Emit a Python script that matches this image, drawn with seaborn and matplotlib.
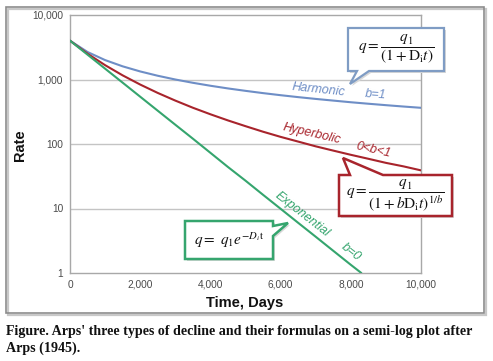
import numpy as np
import pandas as pd
import matplotlib
matplotlib.use("Agg")
import matplotlib.pyplot as plt
from matplotlib.patches import Polygon, Rectangle
from matplotlib.ticker import FixedLocator, FuncFormatter, NullLocator
import seaborn as sns

# === data ===
days = [0, 500, 1000, 1500, 2000, 2500, 3000, 3500, 4000, 4500, 5000,
        5500, 6000, 6500, 7000, 7500, 8000, 8500, 9000, 9500, 10000]
harmonic = [4000, 2667, 2000, 1600, 1333, 1143, 1000, 889, 800, 727, 667,
            615, 571, 533, 500, 471, 444, 421, 400, 381, 364]
hyperbolic = [4000, 2510, 1668, 1159, 835, 619, 471, 365, 289, 232, 189,
              155, 129, 109, 92, 79, 68, 59, 51, 45, 39]
exp_days = [0, 500, 1000, 1500, 2000, 2500, 3000, 3500, 4000, 4500, 5000,
            5500, 6000, 6500, 7000, 7500, 8000, 8300]
exponential = [4000, 2426, 1472, 893, 541, 328, 199, 121, 73, 44, 27,
               16.3, 9.9, 6.0, 3.65, 2.21, 1.34, 1.0]

y_ticks = [1, 10, 100, 1000, 10000]
x_ticks = [0, 2000, 4000, 6000, 8000, 10000]

df = pd.concat([
    pd.DataFrame({"Time": days, "Rate": harmonic, "curve": "Harmonic"}),
    pd.DataFrame({"Time": days, "Rate": hyperbolic, "curve": "Hyperbolic"}),
    pd.DataFrame({"Time": exp_days, "Rate": exponential, "curve": "Exponential"}),
])

BLUE = "#6E8EC6"
RED = "#A8242C"
GREEN = "#35A56E"
palette = {"Harmonic": BLUE, "Hyperbolic": RED, "Exponential": GREEN}

sns.set_theme(style="white")
plt.rcParams["font.family"] = ["Liberation Sans", "DejaVu Sans"]
plt.rcParams["mathtext.fontset"] = "stix"

W, H = 493, 361
fig = plt.figure(figsize=(W / 100, H / 100), dpi=100)
fig.patch.set_facecolor("white")


def px(x, y):
    return (x / W, 1 - y / H)


# outer frame
fig.patches.append(Rectangle(px(8, 315), 478 / W, 306 / H, transform=fig.transFigure,
                             facecolor="none", edgecolor="#C8C8C8", lw=1.6, zorder=0))
fig.patches.append(Rectangle(px(6, 313), 478 / W, 306 / H, transform=fig.transFigure,
                             facecolor="none", edgecolor="#8C8C8C", lw=1.2, zorder=1))

x0, y0 = px(70, 273)
x1, y1 = px(421, 15)
ax = fig.add_axes([x0, y0, x1 - x0, y1 - y0])

sns.lineplot(data=df, x="Time", y="Rate", hue="curve", palette=palette,
             linewidth=1.5, legend=False, ax=ax, zorder=3)

ax.set_yscale("log")
ax.set_xlim(0, 10000)
ax.set_ylim(1, 10000)
ax.yaxis.set_major_locator(FixedLocator(y_ticks))
ax.yaxis.set_minor_locator(NullLocator())
ax.xaxis.set_major_locator(FixedLocator(x_ticks))
fmt = FuncFormatter(lambda v, p: f"{int(round(v)):,}")
ax.yaxis.set_major_formatter(fmt)
ax.xaxis.set_major_formatter(fmt)
ax.tick_params(axis="both", labelsize=7.3, colors="#4A4A4A", length=0, pad=5)
for s in ax.spines.values():
    s.set_color("#A8A8A8")
    s.set_linewidth(1.0)
for v in y_ticks[1:-1]:
    ax.axhline(v, color="#C4C4C4", lw=1.0, zorder=1)
ax.set_xlabel("")
ax.set_ylabel("")

fig.text(*px(20, 145), "Rate", rotation=90, fontsize=10.5, fontweight="bold",
         ha="center", va="center", color="#111111")
fig.text(*px(245, 303), "Time, Days", fontsize=10.5, fontweight="bold",
         ha="center", va="center", color="#111111")


def bubble(pts, edge, lw):
    shadow = [px(x + 2, y + 2) for x, y in pts]
    fig.patches.append(Polygon(shadow, closed=True, transform=fig.transFigure,
                               facecolor="#D8D8D8", edgecolor="none", zorder=4))
    fig.patches.append(Polygon([px(x, y) for x, y in pts], closed=True,
                               transform=fig.transFigure, facecolor="white",
                               edgecolor=edge, lw=lw, zorder=5, joinstyle="miter"))


bubble([(348, 28), (444, 28), (444, 71), (369, 71), (350, 84), (357, 71), (348, 71)],
       "#7F9CC4", 1.6)
bubble([(339, 175), (350, 175), (343, 158), (383, 175), (452, 175), (452, 216), (339, 216)],
       RED, 1.8)
bubble([(185, 221), (273, 221), (273, 226), (288, 223), (273, 236), (273, 259), (185, 259)],
       GREEN, 1.8)

fig.text(*px(396, 50), r"$q = \dfrac{q_1}{(1 + \mathrm{D_i}t)}$", fontsize=11,
         ha="center", va="center", color="#111111", zorder=6)
fig.text(*px(395, 196), r"$q = \dfrac{q_1}{(1 + b\mathrm{D_i}t)^{1/b}}$", fontsize=11,
         ha="center", va="center", color="#111111", zorder=6)
fig.text(*px(229, 240), r"$q =\ q_1e^{-D_i\mathrm{t}}$", fontsize=11,
         ha="center", va="center", color="#111111", zorder=6)

# curve labels
fig.text(*px(319, 90), "Harmonic", rotation=-6, fontsize=9, style="italic",
         color=BLUE, ha="center", va="center")
fig.text(*px(376, 95), "b=1", rotation=-4, fontsize=9, style="italic",
         color=BLUE, ha="center", va="center")
fig.text(*px(312, 134), "Hyperbolic", rotation=-13, fontsize=9, style="italic",
         color=RED, ha="center", va="center")
fig.text(*px(373, 150), "0<b<1", rotation=-13, fontsize=9, style="italic",
         color=RED, ha="center", va="center")
fig.text(*px(302, 214), "Exponential", rotation=-38, fontsize=9, style="italic",
         color=GREEN, ha="center", va="center")
fig.text(*px(351, 252), "b=0", rotation=-38, fontsize=9, style="italic",
         color=GREEN, ha="center", va="center")

# caption
fig.text(*px(6, 332), "Figure. Arps' three types of decline and their formulas on a semi-log plot after",
         fontsize=10.1, fontweight="bold", family=["Liberation Serif", "DejaVu Serif"],
         ha="left", va="center", color="#111111")
fig.text(*px(6, 348), "Arps (1945).",
         fontsize=10.1, fontweight="bold", family=["Liberation Serif", "DejaVu Serif"],
         ha="left", va="center", color="#111111")

fig.savefig("out.png", dpi=100, facecolor="white")
